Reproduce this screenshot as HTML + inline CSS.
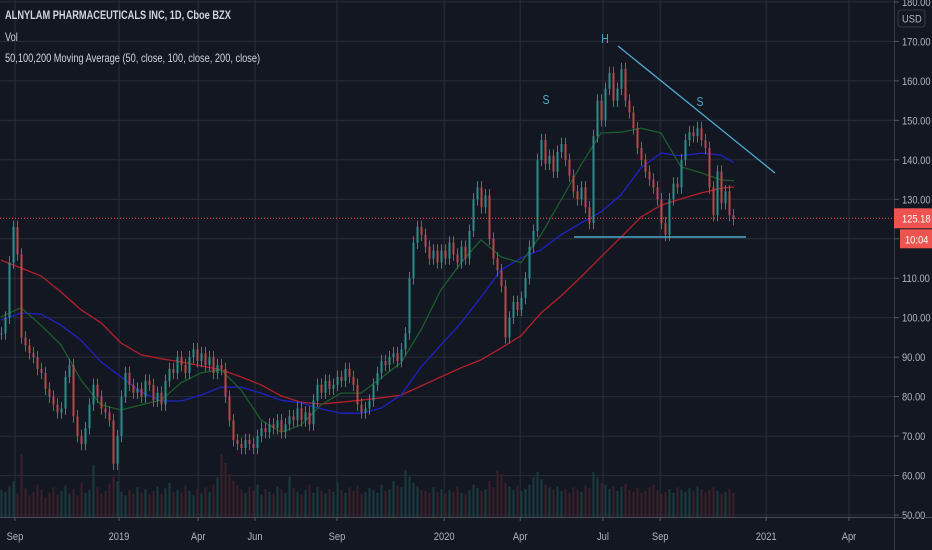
<!DOCTYPE html>
<html><head><meta charset="utf-8">
<style>
html,body{margin:0;padding:0;background:#131722;}
#wrap{position:relative;width:932px;height:550px;overflow:hidden;background:#131722;font-family:"Liberation Sans",sans-serif;}
.legend{position:absolute;left:5px;color:#d1d4dc;font-size:12px;white-space:nowrap;transform:scaleX(0.77);transform-origin:0 0;}
</style></head>
<body>
<div id="wrap">
<svg id="chart" width="932" height="550"></svg>
<div class="legend" style="top:8px;font-weight:bold;">ALNYLAM PHARMACEUTICALS INC, 1D, Cboe BZX</div>
<div class="legend" style="top:30px;">Vol</div>
<div class="legend" style="top:51px;">50,100,200 Moving Average (50, close, 100, close, 200, close)</div>
</div>
<script>
const closes=[96,100,114,123,116,95,93,91,90,87,86,82,80,78,76,77,85,88,75,70,68,72,78,83,80,77,76,74,63,70,80,86,83,81,82,80,84,83,79,81,78,84,87,86,90,88,86,90,92,89,91,88,90,86,88,87,80,74,69,68,67,69,68,67,70,72,71,73,72,74,71,73,75,74,77,74,76,73,79,83,81,84,82,83,85,84,87,85,83,78,76,77,79,83,86,89,88,90,91,89,92,96,110,119,123,121,118,115,117,114,117,115,119,116,114,118,115,122,130,133,128,131,120,115,112,108,95,100,104,102,105,110,118,122,140,145,139,141,137,142,144,140,136,132,130,133,128,124,146,155,150,158,162,155,158,163,155,152,148,143,140,137,135,133,130,124,121,130,134,133,140,145,147,146,148,145,143,133,126,137,129,132,126,125];
const volumes=[30,28,34,40,26,70,32,24,28,36,30,22,27,33,25,29,35,26,31,24,38,27,30,58,33,26,29,37,45,40,28,24,30,26,33,27,31,25,29,34,26,32,38,28,30,27,35,29,24,31,26,33,28,36,44,70,60,48,40,35,30,27,33,29,36,25,31,28,26,34,30,27,45,32,28,25,30,36,27,33,29,26,31,28,38,30,27,33,29,35,26,28,32,30,27,36,29,31,40,35,33,52,45,38,34,30,29,27,33,28,31,26,30,28,34,27,25,30,36,32,29,31,40,33,52,48,38,34,30,35,29,31,36,44,50,42,36,33,30,34,29,31,27,33,30,28,35,32,50,44,38,36,31,34,29,33,37,30,28,32,27,29,33,36,30,26,28,31,27,33,30,28,32,29,34,31,27,30,33,29,26,28,31,27];
const ma50=[100.2,102.5,98.1,93.1,84.2,77.9,76.6,77.9,79.1,83.5,86.0,86.8,81.7,74.1,71.0,72.8,77.9,80.9,80.9,84.7,88.6,96.9,107.1,113.9,119.7,115.4,113.9,121.0,129.8,138.7,146.8,147.0,148.0,146.8,138.2,136.7,134.9,134.6];
const ma100=[99.4,101.2,100.9,98.1,94.3,88.8,85.0,81.2,78.9,78.9,80.4,82.4,82.4,80.9,79.1,78.4,76.9,75.8,75.8,77.1,80.4,87.5,93.1,98.7,105.2,112.1,115.1,117.2,121.0,124.0,126.8,131.1,138.0,141.7,141.0,141.7,141.2,138.2];
const ma200=[114.6,112.6,110.6,106.5,102.0,98.7,93.6,90.6,89.6,88.8,87.8,86.8,85.0,83.0,80.2,78.6,78.1,78.6,79.1,79.7,80.4,82.7,85.0,87.3,89.3,92.3,95.4,101.2,105.5,110.3,115.4,120.4,125.5,128.5,130.1,131.6,132.8,133.3];
const priceTicks=[50,60,70,80,90,100,110,120,130,140,150,160,170,180];
const timeLabels=["Sep","2019","Apr","Jun","Sep","2020","Apr","Jul","Sep","2021","Apr"];
const timeLabelBars=[3.5,29.5,49.3,63.5,84,110.8,129.8,150.5,164.8,191.3,212];
const lastPrice=125.18;

const NS="http://www.w3.org/2000/svg";
const svg=document.getElementById('chart');
const PLOT_R=894, AXIS_Y=517, STEP=4;
function yOf(v){return 41.4+(170-v)*3.947;}
function xOf(i){return 1+i*STEP;}
function mk(tag,attrs,parent){const e=document.createElementNS(NS,tag);for(const k in attrs)e.setAttribute(k,attrs[k]);(parent||svg).appendChild(e);return e;}
const FONT='Liberation Sans, sans-serif';

const grid=mk('g',{});


priceTicks.forEach(v=>{
  const y=yOf(v);
  const l=mk('line',{x1:0,x2:PLOT_R,y1:y,y2:y,stroke:'#2a2e39','stroke-width':1},grid);
  
  
});
timeLabelBars.forEach(b=>{
  const x=xOf(b);
  const l=mk('line',{x1:x,x2:x,y1:0,y2:AXIS_Y,stroke:'#2a2e39','stroke-width':1},grid);
  
  
});

const vg=mk('g',{});


closes.forEach((c,i)=>{
  const o=i>0?closes[i-1]:c;
  const h=volumes[i]*0.9;
  const r=mk('rect',{x:xOf(i)-0.5,y:AXIS_Y-h,width:2,height:h,fill:c>=o?'#1b3b3e':'#3b2129'},vg);
  
  
});

function maLine(arr,color,name){
  const pts=arr.map((v,k)=>xOf(k*5).toFixed(1)+','+yOf(v).toFixed(1)).join(' ');
  const p=mk('polyline',{points:pts,fill:'none',stroke:color,'stroke-width':1.3,'clip-path':'url(#clipMA)'});
  
  
}
const defs=mk('defs',{});
const cp=mk('clipPath',{id:'clipMA'},defs);
mk('rect',{x:0,y:0,width:xOf(closes.length-1)+1,height:AXIS_Y},cp);
maLine(ma200,'#b3202a','ma-200-line');
maLine(ma100,'#1f22c4','ma-100-line');
maLine(ma50,'#1b5e2a','ma-50-line');

const cg=mk('g',{});


closes.forEach((c,i)=>{
  const o=i>0?closes[i-1]:c;
  const up=c>=o;
  const col=up?'#2a8f88':'#b9474b';
  const hi=Math.max(o,c)+1.6, lo=Math.min(o,c)-1.6;
  const x=xOf(i);
  const w=mk('line',{x1:x+0.5,x2:x+0.5,y1:yOf(hi),y2:yOf(lo),stroke:col,'stroke-width':1},cg);
  
  
  const top=yOf(Math.max(o,c)),bh=Math.max(1,yOf(Math.min(o,c))-top);
  const b=mk('rect',{x:x-0.5,y:top,width:2,height:bh,fill:col},cg);
  
  
});

const dg=mk('g',{});


const t1=mk('line',{x1:618,y1:46,x2:775,y2:173,stroke:'#4fa9cf','stroke-width':1.3},dg);


const t2=mk('line',{x1:574,y1:237,x2:746,y2:237,stroke:'#4fa9cf','stroke-width':1.5},dg);


[['S',546,104,'left-shoulder-label'],['H',605,43,'head-label'],['S',700,106,'right-shoulder-label']].forEach(a=>{
  const t=mk('text',{x:a[1],y:a[2],fill:'#4fa9cf','font-size':13,'text-anchor':'middle','font-family':FONT,transform:'translate('+a[1]+',0) scale(0.8,1) translate('+(-a[1])+',0)'},dg);
  t.textContent=a[0];
  
  
});

const lp=mk('line',{x1:0,x2:PLOT_R,y1:yOf(lastPrice),y2:yOf(lastPrice),stroke:'#ef5350','stroke-width':1,'stroke-dasharray':'1,2'});



const ax=mk('g',{});


mk('line',{x1:PLOT_R+0.5,x2:PLOT_R+0.5,y1:0,y2:550,stroke:'#363a45','stroke-width':1},ax);
mk('line',{x1:0,x2:932,y1:AXIS_Y+0.5,y2:AXIS_Y+0.5,stroke:'#4a4e59','stroke-width':1});
function axText(s,x,y,parent,name,fill,anchor){
  const t=mk('text',{x:x,y:y,fill:fill||'#b2b5be','font-size':11,'font-family':FONT,'text-anchor':anchor||'start',transform:'translate('+x+',0) scale(0.85,1) translate('+(-x)+',0)'},parent);
  t.textContent=s;
  return t;
}
priceTicks.forEach(v=>{
  const y=yOf(v);
  mk('line',{x1:PLOT_R,x2:PLOT_R+5,y1:y,y2:y,stroke:'#555a66'},ax);
  const t=axText(v.toFixed(2),PLOT_R+8,y+4,ax);
  
  
});
mk('rect',{x:PLOT_R+4,y:10,width:27,height:17,rx:3,fill:'#131722',stroke:'#363a45'},ax);
const ut=axText('USD',PLOT_R+8,22.5,ax);


const ly=yOf(lastPrice);
const pb=mk('rect',{x:PLOT_R,y:ly-10,width:38,height:20,fill:'#ef5350'},ax);


const pt=axText(lastPrice.toFixed(2),PLOT_R+8,ly+4,ax,null,'#ffffff');


const cb=mk('rect',{x:PLOT_R+6,y:ly+11,width:38,height:19,fill:'#ef5350'},ax);


const ct=axText('10:04',PLOT_R+11,ly+25,ax,null,'#ffffff');



const tx=mk('g',{});


timeLabels.forEach((s,k)=>{
  const x=xOf(timeLabelBars[k]);
  mk('line',{x1:x,x2:x,y1:AXIS_Y,y2:AXIS_Y+4,stroke:'#555a66'},tx);
  const t=axText(s,x,540,tx,null,null,'middle');
  
  
});
</script>
</body></html>
